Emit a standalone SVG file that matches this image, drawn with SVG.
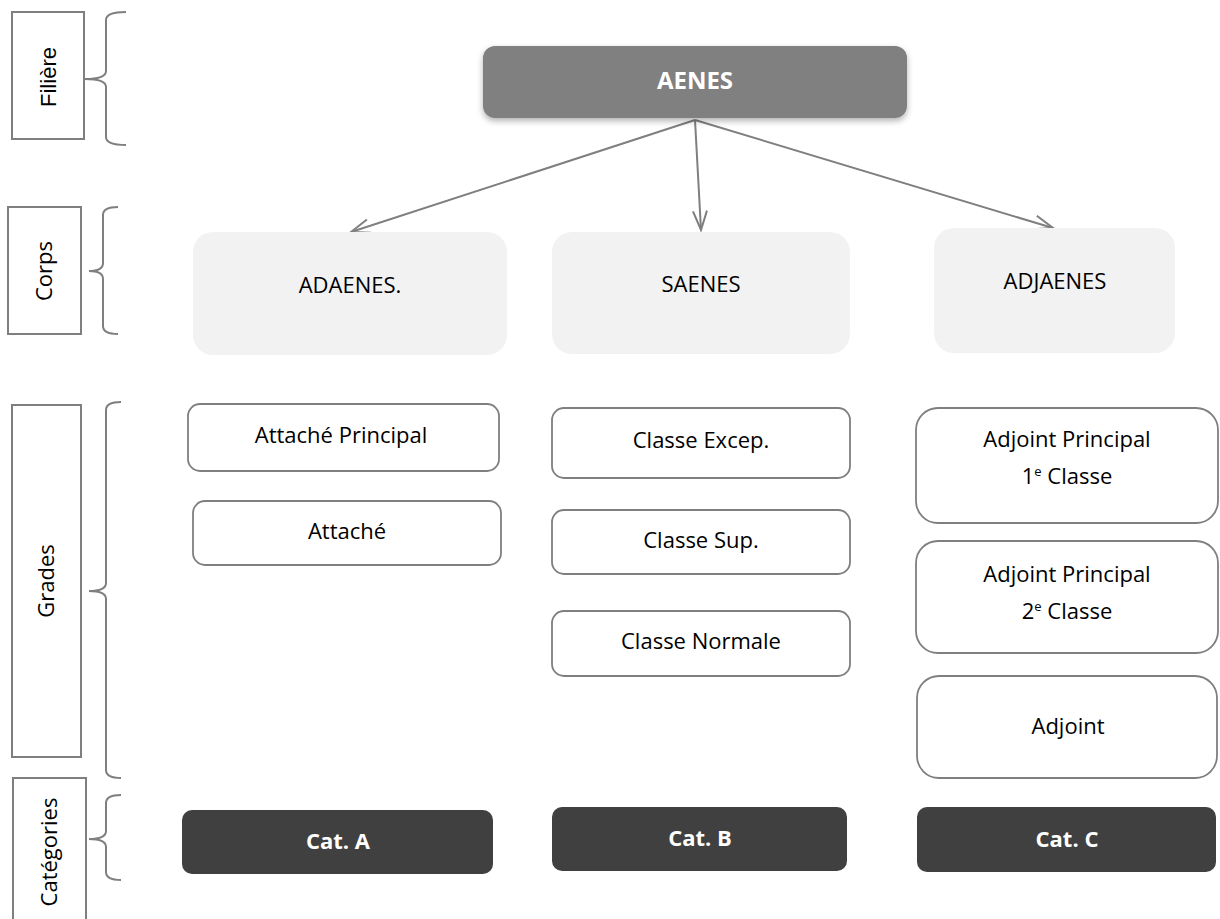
<svg xmlns="http://www.w3.org/2000/svg" width="1220" height="919" viewBox="0 0 1220 919">
<defs>
<style>
.lbl{fill:#fff;stroke:#7f7f7f;stroke-width:2}
.brace{fill:none;stroke:#7f7f7f;stroke-width:2}
.t{font-family:"Open Sans","Liberation Sans",sans-serif;font-size:22px;fill:#000;text-anchor:middle}
.tb{font-family:"Open Sans","Liberation Sans",sans-serif;font-size:22px;font-weight:bold;fill:#fff;text-anchor:middle}
.corps{fill:#f2f2f2}
.grade{fill:#fff;stroke:#7f7f7f;stroke-width:1.8}
.cat{fill:#404040}
.conn{stroke:#7f7f7f;stroke-width:2;fill:none}
.sup{font-size:13px}
</style>
<marker id="arr" markerWidth="22" markerHeight="16" refX="20" refY="8" orient="auto" markerUnits="userSpaceOnUse">
<path d="M1,1 L20,8 L1,15" fill="none" stroke="#7f7f7f" stroke-width="2"/>
</marker>
<filter id="sh" x="-10%" y="-20%" width="120%" height="150%">
<feDropShadow dx="0" dy="3" stdDeviation="3" flood-color="#000" flood-opacity="0.3"/>
</filter>
</defs>
<rect width="1220" height="919" fill="#fff"/>

<g id="levels">
<g id="lvl-filiere">
<rect class="lbl" x="12" y="12" width="72" height="127"/>
<text transform="translate(56,77) rotate(-90)" style="font-family:'Liberation Sans',Arial,sans-serif;font-size:22px;fill:#000;text-anchor:middle">Filière</text>
<path class="brace" d="M126,12 Q106,12 106,20 L106,71 Q106,79 85,79 Q106,79 106,87 L106,137 Q106,145 126,145"/>
</g>
<g id="lvl-corps">
<rect class="lbl" x="8" y="207" width="73" height="127"/>
<text class="t" transform="translate(52,271) rotate(-90)">Corps</text>
<path class="brace" d="M118,207 Q103,207 103,215 L103,263 Q103,271 89,271 Q103,271 103,279 L103,326 Q103,334 118,334"/>
</g>
<g id="lvl-grades">
<rect class="lbl" x="12" y="405" width="69" height="352"/>
<text class="t" transform="translate(54,581) rotate(-90)">Grades</text>
<path class="brace" d="M121,402 Q106,402 106,410 L106,583 Q106,591 89,591 Q106,591 106,599 L106,770 Q106,778 121,778"/>
</g>
<g id="lvl-categories">
<rect class="lbl" x="13" y="778" width="73" height="160"/>
<text class="t" transform="translate(57,852) rotate(-90)">Catégories</text>
<path class="brace" d="M121,795 Q106,795 106,803 L106,831 Q106,839 89,839 Q106,839 106,847 L106,872 Q106,880 121,880"/>
</g>
</g>

<g id="connectors">
<line class="conn" x1="695" y1="120" x2="351" y2="232" marker-end="url(#arr)"/>
<line class="conn" x1="695" y1="120" x2="701" y2="230" marker-end="url(#arr)"/>
<line class="conn" x1="695" y1="120" x2="1053" y2="228" marker-end="url(#arr)"/>
</g>

<g id="aenes">
<rect x="483" y="46" width="424" height="72" rx="12" fill="#808080" filter="url(#sh)"/>
<text class="tb" x="695" y="89" style="font-size:24px">AENES</text>
</g>

<g id="adaenes">
<rect class="corps" x="193" y="232" width="314" height="123" rx="20"/>
<text class="t" x="350" y="293">ADAENES.</text>
</g>
<g id="saenes">
<rect class="corps" x="552" y="232" width="298" height="122" rx="20"/>
<text class="t" x="701" y="292">SAENES</text>
</g>
<g id="adjaenes">
<rect class="corps" x="934" y="228" width="241" height="125" rx="20"/>
<text class="t" x="1055" y="289">ADJAENES</text>
</g>

<g id="attache-principal">
<rect class="grade" x="188" y="404" width="311" height="67" rx="12"/>
<text class="t" x="341" y="443">Attaché Principal</text>
</g>
<g id="attache">
<rect class="grade" x="193" y="501" width="308" height="64" rx="12"/>
<text class="t" x="347" y="539">Attaché</text>
</g>

<g id="classe-excep">
<rect class="grade" x="552" y="408" width="298" height="70" rx="12"/>
<text class="t" x="701" y="448">Classe Excep.</text>
</g>
<g id="classe-sup">
<rect class="grade" x="552" y="510" width="298" height="64" rx="12"/>
<text class="t" x="701" y="548">Classe Sup.</text>
</g>
<g id="classe-normale">
<rect class="grade" x="552" y="611" width="298" height="65" rx="12"/>
<text class="t" x="701" y="649">Classe Normale</text>
</g>

<g id="adjoint-p1">
<rect class="grade" x="916" y="408" width="302" height="115" rx="22"/>
<text class="t" x="1067" y="447">Adjoint Principal</text>
<text class="t" x="1067" y="484">1<tspan class="sup" dy="-8">e</tspan><tspan dy="8"> Classe</tspan></text>
</g>
<g id="adjoint-p2">
<rect class="grade" x="916" y="541" width="302" height="112" rx="22"/>
<text class="t" x="1067" y="582">Adjoint Principal</text>
<text class="t" x="1067" y="619">2<tspan class="sup" dy="-8">e</tspan><tspan dy="8"> Classe</tspan></text>
</g>
<g id="adjoint">
<rect class="grade" x="917" y="676" width="300" height="102" rx="22"/>
<text class="t" x="1068" y="734">Adjoint</text>
</g>

<g id="cat-a">
<rect class="cat" x="182" y="810" width="311" height="64" rx="10"/>
<text class="tb" x="338" y="849">Cat. A</text>
</g>
<g id="cat-b">
<rect class="cat" x="552" y="807" width="295" height="64" rx="10"/>
<text class="tb" x="700" y="846">Cat. B</text>
</g>
<g id="cat-c">
<rect class="cat" x="917" y="807" width="299" height="65" rx="10"/>
<text class="tb" x="1067" y="847">Cat. C</text>
</g>
</svg>
